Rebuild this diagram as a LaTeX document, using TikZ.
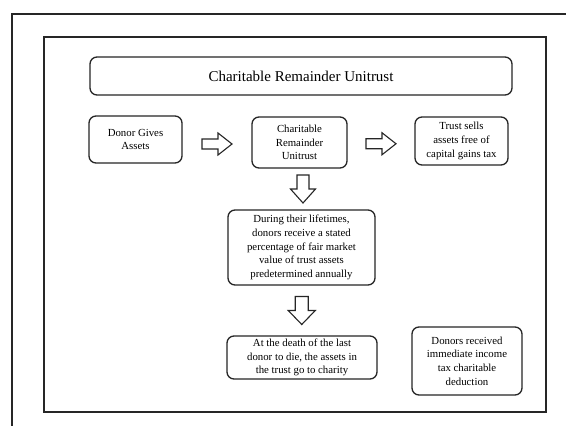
\documentclass[tikz,border=0pt]{standalone}
\usepackage{fontspec}
\setmainfont{Liberation Serif}
\usetikzlibrary{calc}
\begin{document}
\begin{tikzpicture}[x=1pt,y=-1pt,
  box/.style={draw=black!85, line width=1.3pt, rounded corners=7pt, align=center,
    inner sep=1pt, font=\fontsize{10.8}{13.6}\selectfont},
  blockarrow/.style={draw=black!85, line width=1.1pt, fill=white, line join=miter},
  frame/.style={draw=black!85, line width=2.3pt}]
\useasboundingbox (0,0) rectangle (566,426);
\fill[white] (0,0) rectangle (566,426);
% outer frame (partly cut off)
\coordinate (o1) at (12,426);
\coordinate (o2) at (12,14);
\coordinate (o3) at (566,14);
\draw[frame, line width=2pt] (o1) -- (o2) -- (o3);
% inner frame
\coordinate (i1) at (44,37);
\coordinate (i2) at (546,412);
\draw[frame] (i1) rectangle (i2);
% title
\node[box, minimum width=422pt, minimum height=38pt, font=\fontsize{15}{17}\selectfont] (title) at (301,76) {Charitable Remainder Unitrust};
% row of boxes
\node[box, minimum width=93pt, minimum height=47pt] (donor) at (135.5,139.5) {Donor Gives\\Assets};
\node[box, minimum width=95pt, minimum height=51pt] (crut) at (299.5,142.5) {Charitable\\Remainder\\Unitrust};
\node[box, minimum width=93pt, minimum height=48pt] (sells) at (461.5,141) {Trust sells\\assets free of\\capital gains tax};
\node[box, minimum width=147pt, minimum height=75pt] (life) at (301.5,247.5) {During their lifetimes,\\donors receive a stated\\percentage of fair market\\value of trust assets\\predetermined annually};
\node[box, minimum width=150pt, minimum height=43pt] (death) at (302,357.5) {At the death of the last\\donor to die, the assets in\\the trust go to charity};
\node[box, minimum width=110pt, minimum height=68pt] (deduct) at (467,361) {Donors received\\immediate income\\tax charitable\\deduction};
% block arrows (hollow)
\coordinate (a1) at ($(donor.east)!0.5!(crut.west)+(0,3)$);
\coordinate (a2) at ($(crut.east)!0.5!(sells.west)+(0,2)$);
\coordinate (a3) at ($(crut.south)!0.5!(life.north)+(2.5,0)$);
\coordinate (a4) at ($(life.south)!0.5!(death.north)$);
\foreach \c in {a1,a2}{
  \draw[blockarrow, shift={(\c)}] (-15,-5) -- (1,-5) -- (1,-11) -- (15,0) -- (1,11) -- (1,5) -- (-15,5) -- cycle;
}
\draw[blockarrow, shift={(a3)}] (-6,-14) -- (6,-14) -- (6,0) -- (12.5,0) -- (0,14) -- (-12.5,0) -- (-6,0) -- cycle;
\draw[blockarrow, shift={(a4)}] (-6.5,-14) -- (6.5,-14) -- (6.5,0) -- (13.5,0) -- (0,14) -- (-13.5,0) -- (-6.5,0) -- cycle;
\end{tikzpicture}
\end{document}
